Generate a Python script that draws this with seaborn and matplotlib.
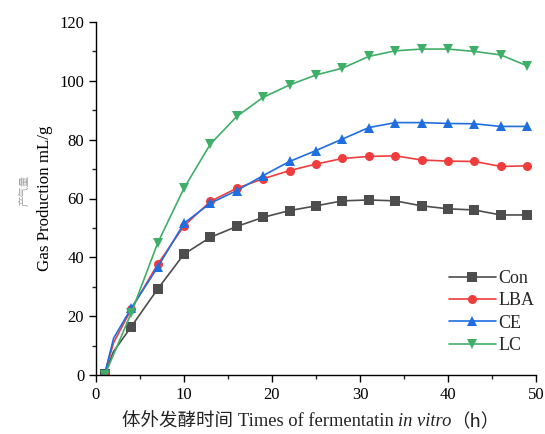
import matplotlib
matplotlib.use("Agg")
import matplotlib.pyplot as plt
import seaborn as sns
import numpy as np
import pandas as pd
from matplotlib.ticker import MultipleLocator

# ---------------- data ----------------
hours = [1, 2, 4, 7, 10, 13, 16, 19, 22, 25, 28, 31, 34, 37, 40, 43, 46, 49]
con = [0.5, 8.0, 16.4, 29.2, 41.1, 46.8, 50.5, 53.6, 55.9, 57.5, 59.2, 59.5, 59.2, 57.5, 56.5, 56.1, 54.4, 54.4]
lba = [0.5, 11.0, 22.3, 37.6, 50.7, 59.0, 63.5, 66.7, 69.5, 71.7, 73.6, 74.3, 74.5, 73.1, 72.7, 72.6, 70.9, 71.1]
ce = [0.5, 12.5, 22.7, 36.6, 51.6, 58.4, 62.7, 67.8, 72.6, 76.3, 80.2, 84.1, 85.8, 85.8, 85.5, 85.4, 84.5, 84.5]
lc = [0.0, None, 21.0, 44.8, 63.5, 78.5, 87.9, 94.4, 98.6, 102.0, 104.3, 108.3, 110.2, 110.8, 110.8, 110.0, 108.8, 105.1]
series_names = ["Con", "LBA", "CE", "LC"]
x_ticks = [0, 10, 20, 30, 40, 50]
y_ticks = [0, 20, 40, 60, 80, 100, 120]

colors = {"Con": "#4d4d4d", "LBA": "#f03c3c", "CE": "#1f6ee0", "LC": "#3fae68"}
markers = {"Con": "s", "LBA": "o", "CE": "^", "LC": "v"}

sns.set_theme(style="ticks")
plt.rcParams["font.family"] = ["Liberation Serif", "Noto Sans CJK SC", "DejaVu Sans"]

fig = plt.figure(figsize=(5.45, 4.34), dpi=100)
ax = fig.add_axes([96 / 545, 59 / 434, 440 / 545, 353 / 434])

values = {"Con": con, "LBA": lba, "CE": ce, "LC": lc}
for name in series_names:
    df = pd.DataFrame({"t": hours, "v": values[name]}).dropna().reset_index(drop=True)
    mark_idx = [i for i, t in enumerate(df["t"]) if t != 2]
    sns.lineplot(data=df, x="t", y="v", ax=ax, color=colors[name], marker=markers[name],
                 markersize=6.5, markeredgewidth=0, linewidth=1.2, label=name,
                 markevery=mark_idx, sort=False)

ax.set_xlim(0, 50)
ax.set_ylim(0, 120)
ax.set_xticks(x_ticks)
ax.set_yticks(y_ticks)
ax.xaxis.set_minor_locator(MultipleLocator(5))
ax.yaxis.set_minor_locator(MultipleLocator(10))
ax.tick_params(axis="both", which="major", direction="out", length=5, width=1, labelsize=12, colors="black")
ax.tick_params(axis="both", which="minor", direction="out", length=3, width=1)
for s in ["top", "right"]:
    ax.spines[s].set_visible(False)
for s in ["left", "bottom"]:
    ax.spines[s].set_linewidth(1.0)
    ax.spines[s].set_color("black")
ax.set_xlabel("")
ax.set_ylabel("")

leg = ax.legend(loc="upper left", bbox_to_anchor=(0.785, 0.318), frameon=False, fontsize=13,
                handlelength=2.6, handletextpad=0.15, labelspacing=0.3, borderaxespad=0)

fig.text(25 / 545, 1 - 190 / 434, "产气量", rotation=90, ha="center", va="center",
         fontsize=7.5, color="#a0a0a0", family=["Noto Sans CJK SC"])
fig.text(45 / 545, 1 - 198 / 434, "Gas Production mL/g", rotation=90, ha="center", va="center",
         fontsize=12.2, color="black", family=["Liberation Serif"])

# x label built from pieces (CJK + serif + italic)
pieces = [("体外发酵时间 ", "normal", ["Noto Sans CJK SC"]),
          ("Times of fermentatin ", "normal", ["Liberation Serif"]),
          ("in vitro", "italic", ["Liberation Serif"]),
          ("（h）", "normal", ["Noto Sans CJK SC"])]
renderer = fig.canvas.get_renderer()
y_fig = 1 - 422 / 434
texts = []
total = 0.0
for s, st, fam in pieces:
    t = fig.text(0, y_fig, s, ha="left", va="center", fontsize=13.3, style=st, family=fam, color="#222222")
    w = t.get_window_extent(renderer).width
    texts.append((t, w))
    total += w
x_px = 311 - total / 2
for t, w in texts:
    t.set_x(x_px / 545)
    x_px += w

fig.savefig("out.png", dpi=100)
